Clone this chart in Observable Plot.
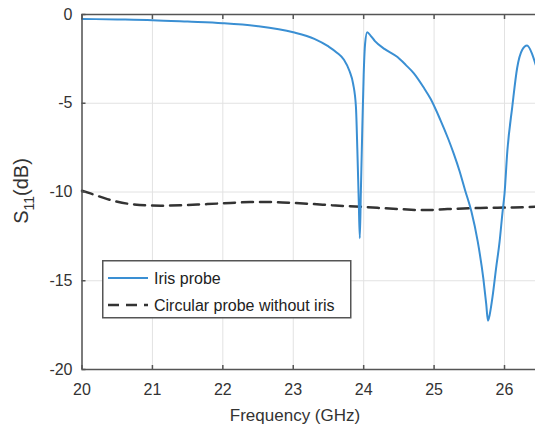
<!DOCTYPE html>
<html><head><meta charset="utf-8">
<script src="https://cdn.jsdelivr.net/npm/d3@7"></script>
<script src="https://cdn.jsdelivr.net/npm/@observablehq/plot@0.6"></script>
<style>
html,body{margin:0;padding:0;background:#fff;}
#wrap{position:relative;width:535px;height:435px;overflow:hidden;}
</style></head><body><div id="wrap"></div>
<script>
// ---- data ----
const irisFreq = [20.0, 20.5, 21.0, 21.5, 22.0, 22.5, 23.0, 23.3, 23.5, 23.62, 23.72, 23.8, 23.85, 23.89, 23.91, 23.93, 23.945, 23.96, 23.98, 24.0, 24.02, 24.05, 24.1, 24.16, 24.3, 24.48, 24.6, 24.71, 24.85, 24.95, 25.09, 25.2, 25.28, 25.36, 25.44, 25.53, 25.62, 25.7, 25.74, 25.765, 25.79, 25.83, 25.88, 25.93, 25.97, 26.0, 26.04, 26.11, 26.18, 26.25, 26.32, 26.39, 26.44, 26.5];
const irisS11 = [-0.25, -0.28, -0.32, -0.4, -0.49, -0.66, -1.0, -1.37, -1.8, -2.15, -2.55, -3.2, -3.9, -5.2, -7.6, -10.5, -12.6, -10.0, -6.5, -3.4, -1.65, -1.0, -1.2, -1.5, -1.95, -2.4, -2.85, -3.3, -4.1, -4.75, -5.95, -7.0, -7.85, -8.8, -9.9, -11.1, -12.8, -14.9, -16.3, -17.25, -16.9, -15.9, -14.3, -12.8, -11.2, -10.1, -7.7, -5.2, -3.0, -2.0, -1.75, -2.2, -2.8, -3.5];
const circFreq = [20.0, 20.12, 20.36, 20.69, 21.12, 21.4, 21.78, 22.11, 22.39, 22.68, 23.01, 23.29, 23.55, 23.96, 24.48, 24.88, 25.19, 25.66, 26.13, 26.5];
const circS11 = [-9.93, -10.08, -10.4, -10.68, -10.77, -10.75, -10.68, -10.62, -10.57, -10.57, -10.62, -10.68, -10.75, -10.83, -10.96, -11.02, -10.96, -10.9, -10.87, -10.82];
const xTicks = [20, 21, 22, 23, 24, 25, 26];
const yTicks = [0, -5, -10, -15, -20];
const seriesNames = ["Iris probe", "Circular probe without iris"];
const xTitle = "Frequency (GHz)";
const yTitleMain = "S", yTitleSub = "11", yTitleUnit = "(dB)";

const iris = irisFreq.map((f, i) => ({f, s: irisS11[i]}));
const circ = circFreq.map((f, i) => ({f, s: circS11[i]}));

const blue = "#3a8fd3", dark = "#333", axisCol = "#555";
const font = "'Liberation Sans', Arial, sans-serif";

const plot = Plot.plot({
  width: 535, height: 435,
  marginLeft: 81.5, marginRight: 0, marginTop: 14, marginBottom: 66,
  style: {fontFamily: font, fontSize: "16px", color: "#333", background: "#fff"},
  x: {domain: [20, 26.44], label: null},
  y: {domain: [-20, 0], label: null},
  marks: [
    Plot.gridX(xTicks, {stroke: "#e2e2e2", strokeOpacity: 1, strokeWidth: 1}),
    Plot.gridY(yTicks, {stroke: "#e2e2e2", strokeOpacity: 1, strokeWidth: 1}),
    Plot.line(circ, {x: "f", y: "s", stroke: dark, strokeWidth: 2.5, strokeDasharray: "11,7", curve: "monotone-x"}),
    Plot.line(iris, {x: "f", y: "s", stroke: blue, strokeWidth: 2, curve: "monotone-x"}),
    Plot.ruleX([20], {stroke: axisCol, strokeWidth: 1.5}),
    Plot.ruleY([0, -20], {stroke: axisCol, strokeWidth: 1.5}),
    Plot.axisX(xTicks, {anchor: "bottom", tickSize: -4, tickPadding: 18, stroke: axisCol, strokeWidth: 1.5, tickFormat: d => String(d)}),
    Plot.axisX(xTicks, {anchor: "top", tickSize: -4, stroke: axisCol, strokeWidth: 1.5, tickFormat: () => ""}),
    Plot.axisY(yTicks, {anchor: "left", tickSize: -4, tickPadding: 13.5, stroke: axisCol, strokeWidth: 1.5, tickFormat: d => String(d)})
  ]
});
document.getElementById("wrap").appendChild(plot);

const svg = d3.select(plot);
// x title
svg.append("text").attr("x", 295).attr("y", 421).attr("text-anchor", "middle")
  .attr("font-family", font).attr("font-size", 17).attr("fill", "#333").text(xTitle);
// y title with subscript
const yt = svg.append("text").attr("transform", "translate(28,191) rotate(-90)")
  .attr("text-anchor", "middle").attr("font-family", font).attr("font-size", 20).attr("fill", "#333");
yt.append("tspan").text(yTitleMain);
yt.append("tspan").attr("font-size", 14).attr("dy", 6).text(yTitleSub);
yt.append("tspan").attr("dy", -6).text(yTitleUnit);

// legend
const lg = svg.append("g").attr("transform", "translate(102,260)");
lg.append("rect").attr("x", 0.75).attr("y", 0.75).attr("width", 248).attr("height", 57)
  .attr("fill", "#fff").attr("stroke", axisCol).attr("stroke-width", 1.5);
const rows = [{name: seriesNames[0], stroke: blue, w: 2, dash: null, y: 18},
              {name: seriesNames[1], stroke: dark, w: 2.5, dash: "11,7", y: 45}];
rows.forEach(r => {
  const ln = lg.append("line").attr("x1", 6).attr("x2", 46).attr("y1", r.y).attr("y2", r.y)
    .attr("stroke", r.stroke).attr("stroke-width", r.w);
  if (r.dash) ln.attr("stroke-dasharray", r.dash);
  lg.append("text").attr("x", 52).attr("y", r.y).attr("dy", "0.35em").attr("text-anchor", "start")
    .attr("font-family", font).attr("font-size", 16).attr("fill", "#222").text(r.name);
});
</script>
</body></html>
